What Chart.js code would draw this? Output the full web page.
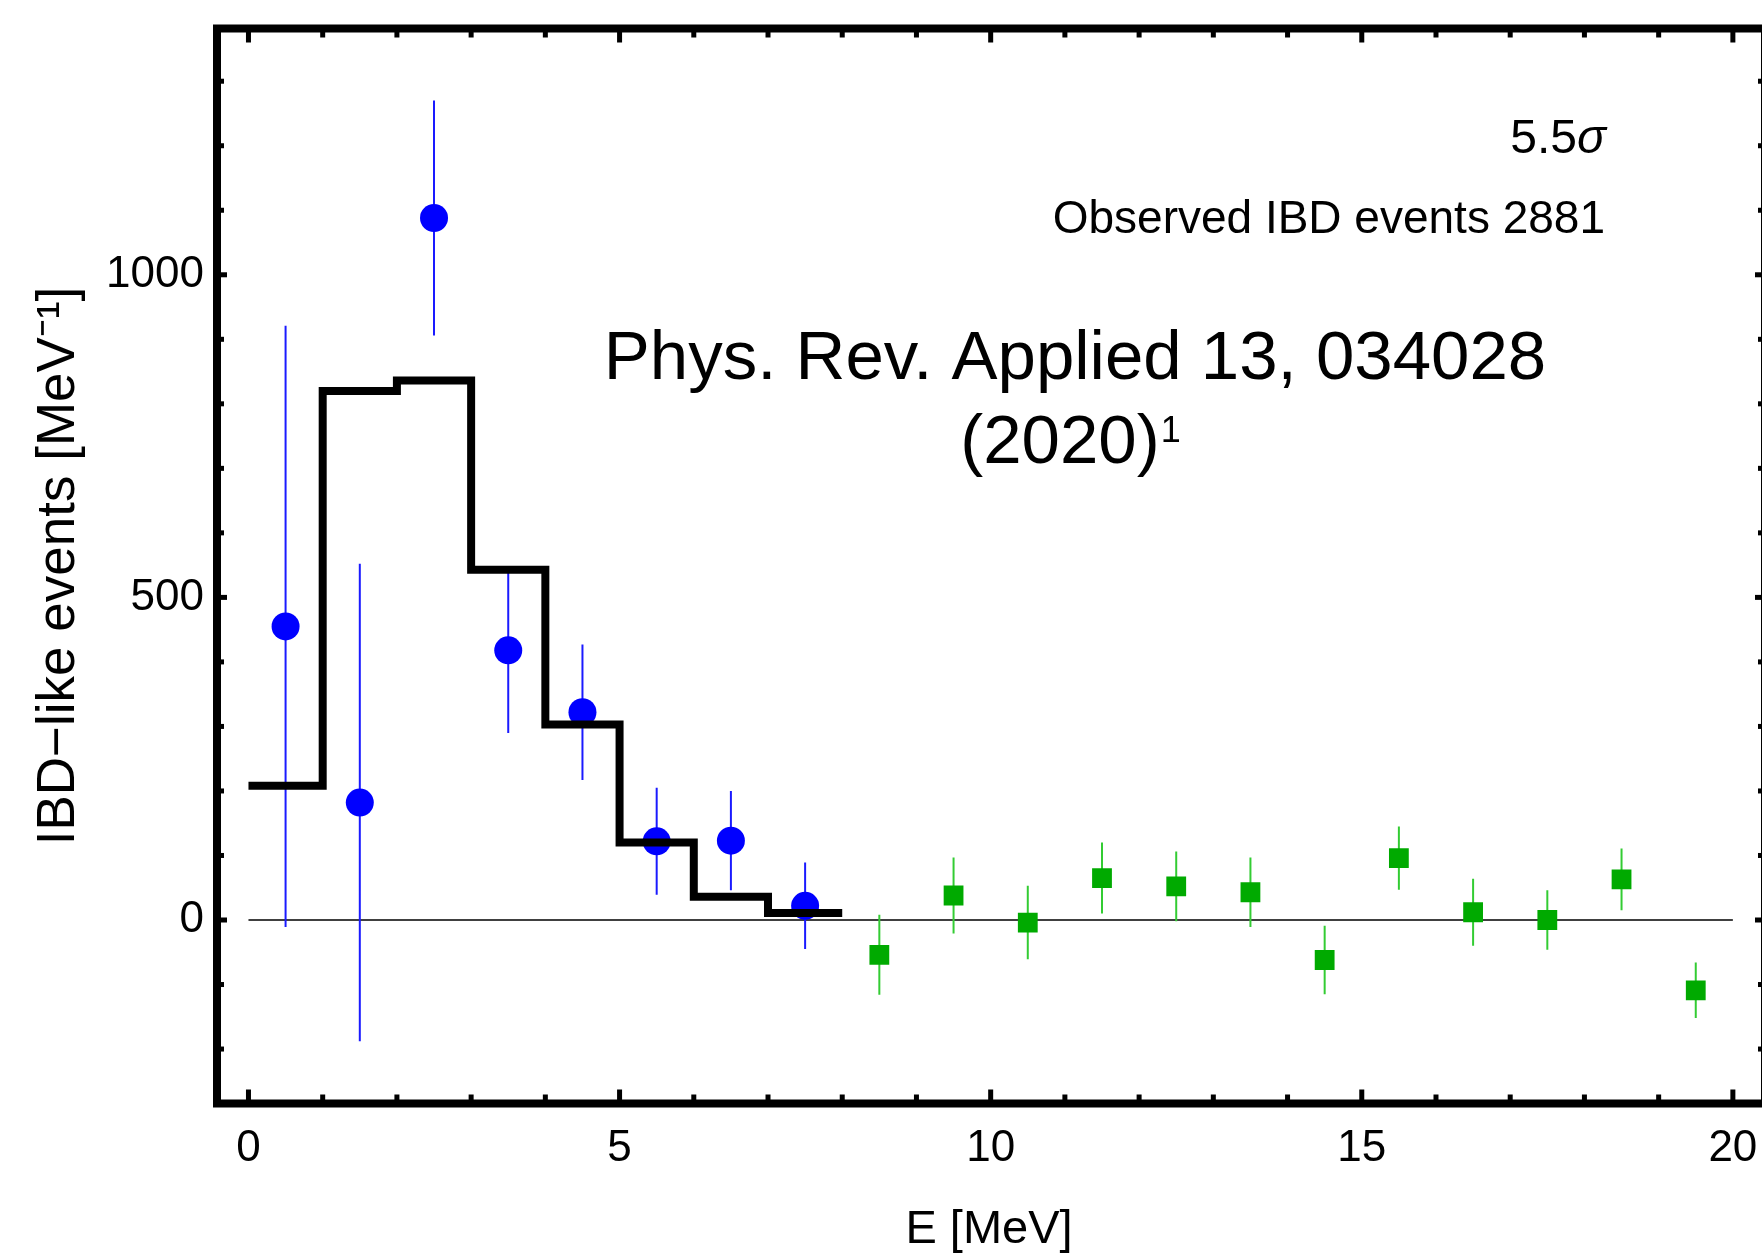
<!DOCTYPE html>
<html>
<head>
<meta charset="utf-8">
<script src="https://cdn.jsdelivr.net/npm/chart.js@4.4.1/dist/chart.umd.min.js"></script>
<style>
  html, body { margin: 0; padding: 0; background: #fff; }
  canvas { display: block; }
</style>
</head>
<body>
<canvas id="chart" width="1762" height="1258"></canvas>
<script>
// measured spectrum (blue), per MeV
const binCenters = [0.5, 1.5, 2.5, 3.5, 4.5, 5.5, 6.5, 7.5];
const observed = [455, 182, 1088, 418, 322, 122, 123, 22];
const observedErr = [466, 370, 182, 128, 105, 83, 77, 67];

// high energy bins (green)
const highCenters = [8.5, 9.5, 10.5, 11.5, 12.5, 13.5, 14.5, 15.5, 16.5, 17.5, 18.5, 19.5];
const highValues = [-54, 38, -4, 65, 52, 43, -62, 96, 12, 0, 63, -109];
const highErr = [62, 59, 57, 55, 54, 54, 53, 49, 52, 46, 48, 43];

// expected histogram (black), left bin edges
const binEdges = [0, 1, 2, 3, 4, 5, 6, 7, 8];
const expected = [208, 820, 836, 543, 303, 120, 36, 11];

const xTicks = [0, 5, 10, 15, 20];
const yTicks = [0, 500, 1000];

const FONT = "'Liberation Sans', Arial, Helvetica, sans-serif";

function errorSegments(xs, ys, errs) {
    const pts = [];
    xs.forEach((x, i) => {
        pts.push({ x: x, y: ys[i] - errs[i] });
        pts.push({ x: x, y: ys[i] + errs[i] });
        pts.push({ x: x, y: null });
    });
    return pts;
}

const histPoints = binEdges.map((x, i) => ({ x: x, y: expected[Math.min(i, expected.length - 1)] }));

// frame with inward ticks on all four sides
const framePlugin = {
    id: 'frame',
    afterDatasetsDraw(chart) {
        const { ctx, chartArea, scales } = chart;
        const xs = scales.x, ys = scales.y;
        const left = chartArea.left, top = chartArea.top;
        const right = chartArea.right + 4, bottom = chartArea.bottom;
        ctx.save();
        ctx.strokeStyle = '#000';
        ctx.lineWidth = 8;
        ctx.strokeRect(left, top, right - left, bottom - top);

        ctx.fillStyle = '#000';
        for (let v = 0; v <= 20; v++) {
            const px = xs.getPixelForValue(v);
            const len = v % 5 === 0 ? 14 : 9;
            ctx.fillRect(px - 2.5, bottom - len, 5, len);
            ctx.fillRect(px - 2.5, top, 5, len);
        }
        for (let v = -200; v <= 1300; v += 100) {
            const py = ys.getPixelForValue(v);
            const len = v % 500 === 0 ? 10 : 7;
            ctx.fillRect(left, py - 2.5, len, 5);
            ctx.fillRect(right - len, py - 2.5, len, 5);
        }
        ctx.restore();
    },
    afterDraw(chart) {
        const ctx = chart.ctx;
        ctx.save();
        ctx.fillStyle = '#000';
        ctx.textBaseline = 'alphabetic';

        // 5.5 sigma
        ctx.font = '48px ' + FONT;
        const numW = ctx.measureText('5.5').width;
        ctx.font = 'italic 48px ' + FONT;
        const sigW = ctx.measureText('σ').width;
        const sx = 1606 - numW - sigW;
        ctx.font = '48px ' + FONT;
        ctx.textAlign = 'left';
        ctx.fillText('5.5', sx, 153);
        ctx.font = 'italic 48px ' + FONT;
        ctx.fillText('σ', sx + numW, 153);

        ctx.font = '46px ' + FONT;
        ctx.textAlign = 'right';
        ctx.fillText('Observed IBD events 2881', 1605, 233);

        ctx.font = '69px ' + FONT;
        ctx.textAlign = 'center';
        ctx.fillText('Phys. Rev. Applied 13, 034028', 1075, 379);

        ctx.textAlign = 'left';
        const yearW = ctx.measureText('(2020)').width;
        ctx.font = '36px ' + FONT;
        const supW = ctx.measureText('1').width;
        const lx = 1070 - (yearW + supW) / 2;
        ctx.font = '69px ' + FONT;
        ctx.fillText('(2020)', lx, 463);
        ctx.font = '36px ' + FONT;
        ctx.fillText('1', lx + yearW + 1, 442);
        ctx.restore();
    }
};

const ctx = document.getElementById('chart').getContext('2d');
const chart = new Chart(ctx, {
    type: 'scatter',
    data: {
        datasets: [
            {
                type: 'line',
                data: [{ x: 0, y: 0 }, { x: 20, y: 0 }],
                borderColor: '#000',
                borderWidth: 1.5,
                pointRadius: 0,
                order: 5
            },
            {
                type: 'line',
                data: errorSegments(binCenters, observed, observedErr),
                borderColor: '#1a1aff',
                borderWidth: 2,
                pointRadius: 0,
                spanGaps: false,
                order: 4
            },
            {
                type: 'line',
                data: errorSegments(highCenters, highValues, highErr),
                borderColor: '#33cc33',
                borderWidth: 2,
                pointRadius: 0,
                spanGaps: false,
                order: 4
            },
            {
                data: binCenters.map((x, i) => ({ x: x, y: observed[i] })),
                pointStyle: 'circle',
                pointRadius: 14,
                backgroundColor: '#0000ff',
                borderWidth: 0,
                order: 3
            },
            {
                data: highCenters.map((x, i) => ({ x: x, y: highValues[i] })),
                pointStyle: 'rect',
                pointRadius: 14,
                backgroundColor: '#00aa00',
                borderWidth: 0,
                order: 3
            },
            {
                type: 'line',
                data: histPoints,
                stepped: true,
                borderColor: '#000',
                borderWidth: 8,
                borderJoinStyle: 'miter',
                borderCapStyle: 'butt',
                pointRadius: 0,
                order: 1
            }
        ]
    },
    options: {
        responsive: false,
        animation: false,
        devicePixelRatio: 1,
        layout: {
            autoPadding: false,
            padding: { top: 28.5, right: 1, left: 0, bottom: 0 }
        },
        plugins: {
            legend: { display: false },
            tooltip: { enabled: false }
        },
        scales: {
            x: {
                type: 'linear',
                position: 'bottom',
                min: -0.424,
                max: 20.379,
                afterFit: s => {
                    s.height = 154.5;
                    s.paddingLeft = 0;
                    s.paddingRight = 0;
                },
                afterBuildTicks: s => { s.ticks = xTicks.map(v => ({ value: v })); },
                ticks: {
                    padding: 19,
                    color: '#000',
                    maxRotation: 0,
                    font: { family: FONT, size: 44 },
                    callback: v => String(v)
                },
                grid: { display: false, drawTicks: false },
                border: { display: false },
                title: {
                    display: true,
                    text: 'E [MeV]',
                    color: '#000',
                    font: { family: FONT, size: 47 },
                    padding: { top: 0, bottom: 0 }
                }
            },
            y: {
                type: 'linear',
                min: -284.4,
                max: 1381.7,
                afterFit: s => {
                    s.width = 217;
                    s.paddingTop = 0;
                    s.paddingBottom = 0;
                },
                afterBuildTicks: s => { s.ticks = yTicks.map(v => ({ value: v })); },
                ticks: {
                    padding: 13,
                    color: '#000',
                    font: { family: FONT, size: 44 },
                    callback: v => String(v)
                },
                grid: { display: false, drawTicks: false },
                border: { display: false },
                title: {
                    display: true,
                    text: 'IBD−like events [MeV⁻¹]',
                    color: '#000',
                    font: { family: FONT, size: 53 },
                    padding: { top: 28, bottom: 0 }
                }
            }
        }
    },
    plugins: [framePlugin]
});
</script>
</body>
</html>
